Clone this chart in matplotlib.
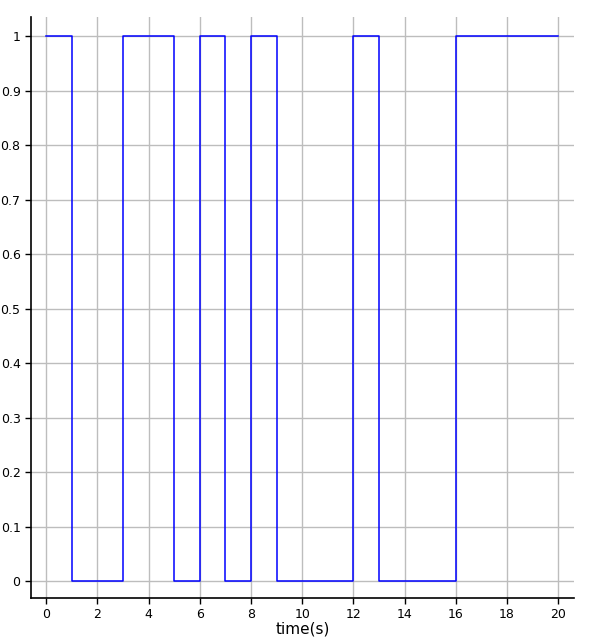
import numpy as np
from matplotlib import pyplot as plt

# switching times (s) and the state held after each one
t = [0, 1, 3, 5, 6, 7, 8, 9, 12, 13, 16, 20]
state = [1, 0, 1, 0, 1, 0, 1, 0, 1, 0, 1, 1]

xticks = [0, 2, 4, 6, 8, 10, 12, 14, 16, 18, 20]
yticks = [0, 0.1, 0.2, 0.3, 0.4, 0.5, 0.6, 0.7, 0.8, 0.9, 1]
ytick_labels = ["0", "0.1", "0.2", "0.3", "0.4", "0.5", "0.6", "0.7", "0.8", "0.9", "1"]

fig = plt.figure(figsize=(5.94, 6.41), dpi=100)
ax = fig.add_axes([0.0522, 0.0671, 0.9141, 0.9064])

ax.plot(t, state, drawstyle="steps-post", color="#0000ff", lw=1.1, zorder=3)

ax.set_xlim(-0.59, 20.62)
ax.set_ylim(-0.031, 1.035)
ax.set_xticks(xticks)
ax.set_yticks(yticks)
ax.set_yticklabels(ytick_labels)
ax.grid(True, color="#bdbdbd", lw=1)
ax.set_axisbelow(True)

for side in ["top", "right"]:
    ax.spines[side].set_visible(False)
for side in ["left", "bottom"]:
    ax.spines[side].set_linewidth(1.2)

ax.tick_params(axis="both", labelsize=9, length=4, width=1, color="black")
ax.set_xlabel("time(s)", fontsize=11, labelpad=0)

fig.savefig("out.png", dpi=100)
